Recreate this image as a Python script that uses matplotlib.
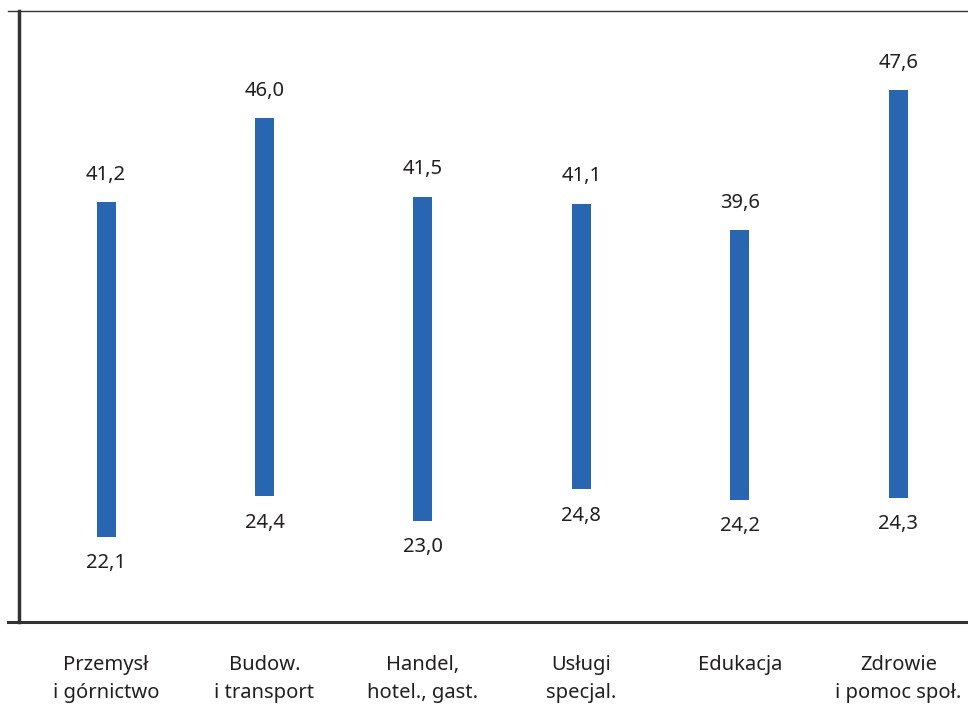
import matplotlib
matplotlib.use("Agg")
import matplotlib.pyplot as plt

categories = [
    "Przemysł\ni górnictwo",
    "Budow.\ni transport",
    "Handel,\nhotel., gast.",
    "Usługi\nspecjal.",
    "Edukacja",
    "Zdrowie\ni pomoc społ.",
]
low_values = [22.1, 24.4, 23.0, 24.8, 24.2, 24.3]
high_values = [41.2, 46.0, 41.5, 41.1, 39.6, 47.6]

BLUE = "#2866b1"
DARK = "#231f20"

plt.rcParams["font.family"] = ["Noto Sans", "DejaVu Sans"]

fig = plt.figure(figsize=(9.68, 7.09), dpi=100)
ax = fig.add_axes([8 / 968, 1 - 622 / 709, 960 / 968, 611 / 709])

x = list(range(len(categories)))
heights = [h - l for h, l in zip(high_values, low_values)]
ax.bar(x, heights, bottom=low_values, width=0.12, color=BLUE)

for xi, lo, hi in zip(x, low_values, high_values):
    ax.annotate(f"{hi:.1f}".replace(".", ","), (xi, hi), xytext=(0, 20),
                textcoords="offset points", ha="center", va="center",
                fontsize=14.5, color=DARK)
    ax.annotate(f"{lo:.1f}".replace(".", ","), (xi, lo), xytext=(0, -19),
                textcoords="offset points", ha="center", va="center",
                fontsize=14.5, color=DARK)

ax.set_xlim(-0.619, 5.44)
ax.set_ylim(17.22, 52.13)

ax.set_xticks(x)
ax.set_xticklabels(categories, fontsize=14.5, color=DARK, linespacing=1.5)
ax.tick_params(axis="x", length=0, pad=24)
ax.set_yticks([])

ax.spines["right"].set_visible(False)
ax.spines["top"].set_color("#333333")
ax.spines["top"].set_linewidth(1.0)
ax.spines["bottom"].set_color("#333333")
ax.spines["bottom"].set_linewidth(2.2)
ax.spines["left"].set_color("#333333")
ax.spines["left"].set_linewidth(2.5)
ax.spines["left"].set_position(("data", -0.549))

fig.savefig("out.png", dpi=100)
